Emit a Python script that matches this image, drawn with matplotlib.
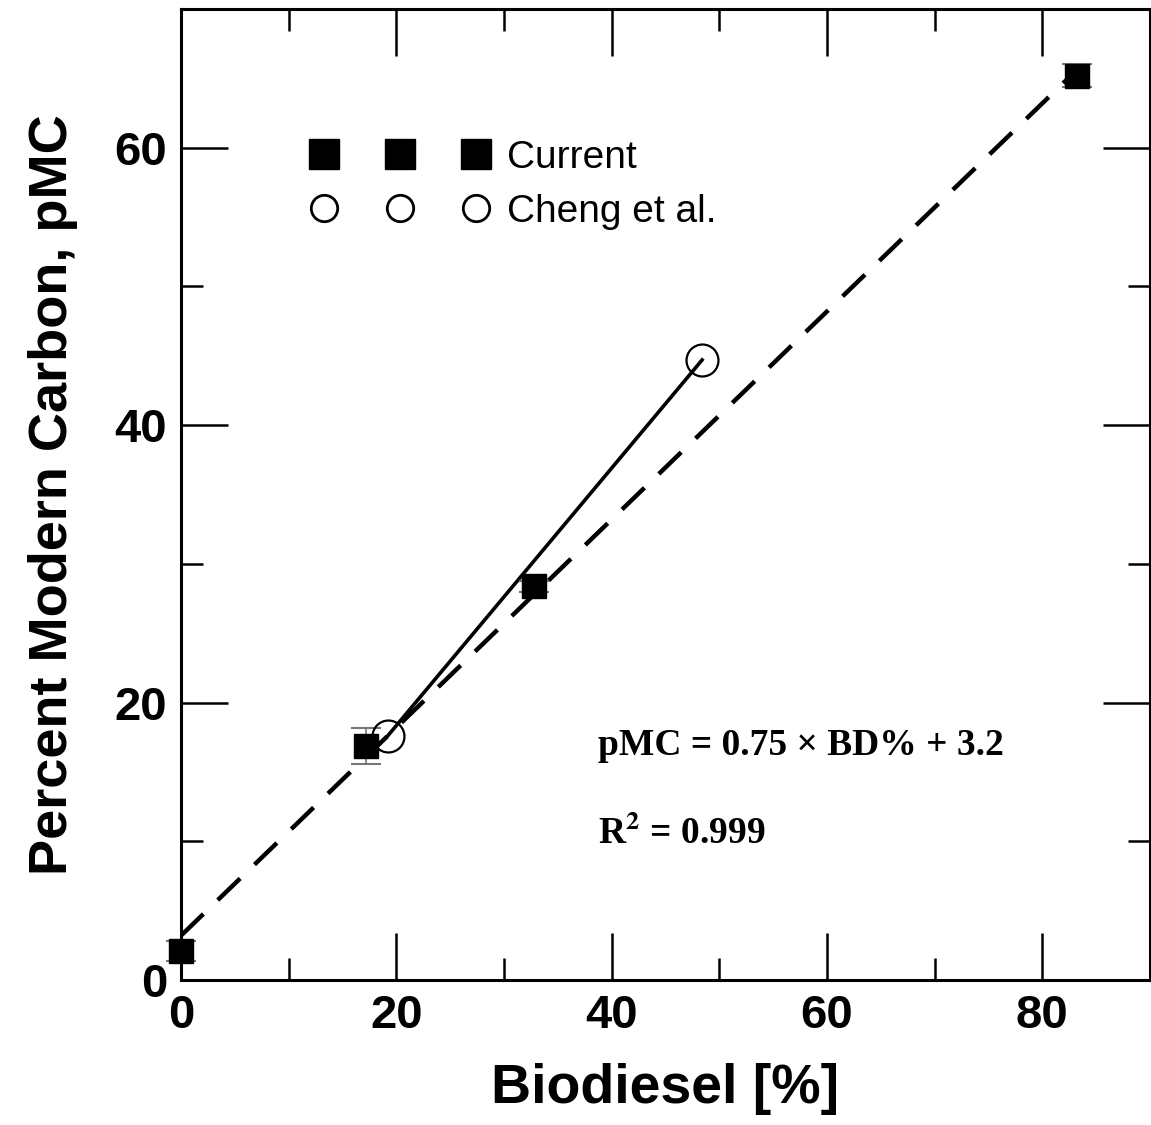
import numpy as np
import matplotlib
matplotlib.use("Agg")
import matplotlib.pyplot as plt
from matplotlib.ticker import MultipleLocator

# Data
current_x = [0.0, 17.2, 32.8, 83.2]
current_y = [2.1, 16.9, 28.4, 65.2]
current_err = [0.7, 1.3, 0.4, 0.8]

cheng_x = [19.2, 48.4]
cheng_y = [17.6, 44.7]

fit_slope = 0.75
fit_intercept = 3.2
fit_range = [0.0, 82.5]

plt.rcParams["font.family"] = ["Liberation Sans", "DejaVu Sans"]
plt.rcParams["mathtext.fontset"] = "stix"

fig = plt.figure(figsize=(11.51, 11.25), dpi=100)
ax = fig.add_axes([181 / 1151, 1 - 980 / 1125, (1150 - 181) / 1151, (980 - 9) / 1125])

# fitted line (dashed)
fx = np.array(fit_range)
ax.plot(fx, fit_slope * fx + fit_intercept, color="black", lw=3.2,
        linestyle=(0, (7, 4.5)), zorder=2)

# Cheng et al. connecting line
ax.plot(cheng_x, cheng_y, color="black", lw=2.6, zorder=2)

ax.errorbar(current_x, current_y, yerr=current_err, fmt="none",
            ecolor="#777777", elinewidth=1.2, capsize=11, capthick=1.5,
            zorder=3, clip_on=False)
ax.plot(current_x, current_y, linestyle="none", marker="s", markersize=17,
        color="black", label="Current", zorder=4, clip_on=False)
ax.plot(cheng_x, cheng_y, linestyle="none", marker="o", markersize=23,
        markerfacecolor="none", markeredgecolor="black", markeredgewidth=1.6,
        label="Cheng et al.", zorder=4, clip_on=False)

ax.set_xlim(0, 90)
ax.set_ylim(0, 70)
ax.xaxis.set_major_locator(MultipleLocator(20))
ax.xaxis.set_minor_locator(MultipleLocator(10))
ax.yaxis.set_major_locator(MultipleLocator(20))
ax.yaxis.set_minor_locator(MultipleLocator(10))
ax.tick_params(which="both", direction="in", top=True, right=True, width=1.8)
ax.tick_params(which="major", length=34, labelsize=34, pad=10)
ax.tick_params(which="minor", length=16)
for lab in ax.get_xticklabels() + ax.get_yticklabels():
    lab.set_fontweight("bold")
for sp in ax.spines.values():
    sp.set_linewidth(2.2)

ax.set_xlabel("Biodiesel [%]", fontsize=40, fontweight="bold", labelpad=18)
ax.set_ylabel("Percent Modern Carbon, pMC", fontsize=39, fontweight="bold", labelpad=26)

leg = ax.legend(loc="center left", bbox_to_anchor=(0.119, 0.819), numpoints=3,
                frameon=False, fontsize=28, handlelength=4.53, handletextpad=0.49,
                labelspacing=0.45, borderaxespad=0)
hs = leg.legend_handles
hs[0].set_markersize(22)
hs[1].set_markersize(19)
hs[1].set_markeredgewidth(2.0)

serif = ["Liberation Serif", "DejaVu Serif"]
ax.text(0.43, 0.242, "pMC = 0.75 \u00d7 BD% + 3.2", transform=ax.transAxes,
        fontsize=27, fontweight="bold", family=serif, va="center")
ax.text(0.43, 0.151, "R$^{\\mathbf{2}}$ = 0.999", transform=ax.transAxes,
        fontsize=27, fontweight="bold", family=serif, va="center")

fig.savefig("out.png", dpi=100)
